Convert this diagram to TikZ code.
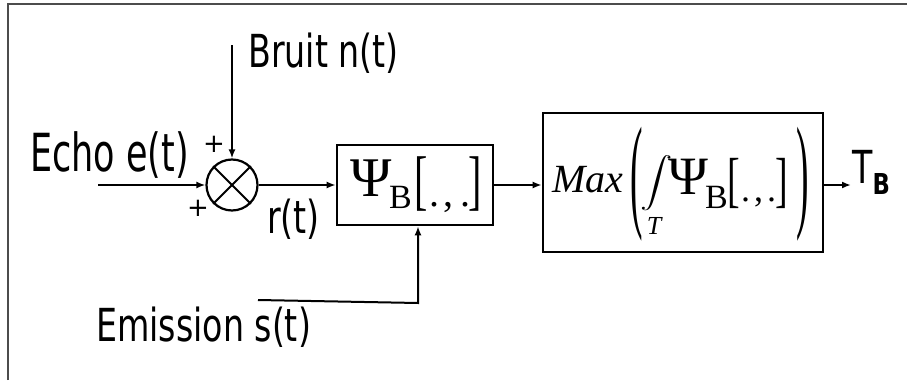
\documentclass[tikz,border=0pt]{standalone}
\usepackage{exscale}
\usepackage{fontspec}
\usepackage{graphicx}
\setmainfont{DejaVu Sans}
\newfontfamily\tms{Liberation Serif}
\newcommand{\tall}[2]{\scalebox{0.95}[#1]{#2}}
\usetikzlibrary{arrows.meta}
\begin{document}
\begin{tikzpicture}[x=1pt,y=-1pt,
  lbl/.style={inner sep=0pt, font=\fontsize{35}{35}\selectfont},
  sym/.style={inner sep=0pt},
  serif/.style={inner sep=0pt, anchor=base west},
  wire/.style={line width=2pt},
  arr/.style={wire,-{Latex[length=9pt,width=7pt]}},
  blk/.style={draw, line width=2.6pt, inner sep=0pt}]
\useasboundingbox (0,0) rectangle (907,380);
\draw[line width=2pt, black!70] (8,380) -- (8,4) -- (907,4);

% blocks
\node[blk, minimum width=156pt, minimum height=80pt] (b1) at (415,185) {};
\node[blk, minimum width=280pt, minimum height=139pt] (b2) at (683,182.5) {};
\node[draw, circle, line width=2.2pt, minimum size=51pt, inner sep=0pt] (sum) at (232,185) {};
\draw[wire] (sum.north west) -- (sum.south east);
\draw[wire] (sum.north east) -- (sum.south west);

% connectors
\coordinate (ein) at (98,185);
\coordinate (nin) at (232,45);
\coordinate (tout) at (851,185);
\coordinate (sin) at (258,300);
\coordinate (scorner) at (418,303);
\draw[arr] (ein) -- (sum.west);
\draw[arr] (nin) -- (sum.north);
\draw[arr] (sum.east) -- (b1.west);
\draw[arr] (b1.east) -- (b1.east -| b2.west);
\draw[arr] (b1.east -| b2.east) -- (tout);
\draw[arr] (sin) -- (scorner) -- (scorner |- b1.south);

% labels
\node[lbl, anchor=base west] (bruit) at (248,67) {\tall{1.3}{Bruit n(t)}};
\node[lbl, anchor=base west] (echo) at (30,171) {\scalebox{1.0}[1.5]{Echo e(t)}};
\node[lbl, anchor=base west] (rt) at (267,233) {\tall{1.3}{r(t)}};
\node[lbl, anchor=base west] (emis) at (96,341) {\tall{1.3}{Emission s(t)}};
\node[lbl, anchor=base west] (tb) at (852,183) {\tall{1.3}{T}\raisebox{-11pt}{\fontsize{24}{24}\selectfont\bfseries\tall{1.2}{B}}};
\node[sym, font=\fontsize{26}{26}\selectfont] (p1) at (214,144) {+};
\node[sym, font=\fontsize{26}{26}\selectfont] (p2) at (198,208) {+};

% block 1 content
\node[serif, font=\tms\fontsize{56}{56}\selectfont] (psi1) at (350,196) {Ψ};
\node[serif, font=\tms\fontsize{34}{34}\selectfont] (bs1) at (389,208) {B};
\node[sym, font=\tms\fontsize{40}{40}\selectfont] (lb1) at (421,184.5) {\scalebox{1}[1.65]{[}};
\node[sym, font=\tms\fontsize{40}{40}\selectfont] (rb1) at (475,184.5) {\scalebox{1}[1.65]{]}};
\node[serif, font=\tms\fontsize{40}{40}\selectfont] (dots1) at (429,206) {.\hspace{4pt},\hspace{7pt}.};

% block 2 content
\node[serif, font=\tms\itshape\fontsize{40}{40}\selectfont] (max) at (552,192) {Max};
\node[sym, font=\tms\fontsize{30}{30}\selectfont] (lp) at (637,184) {\scalebox{1.25}[4.2]{(}};
\node[sym, font=\tms\fontsize{30}{30}\selectfont] (rp) at (803,184) {\scalebox{1.25}[4.2]{)}};
\node[sym] (intg) at (657,183.5) {\scalebox{1.3}[1]{\fontsize{26}{26}\selectfont$\displaystyle\int$}};
\node[inner sep=0pt, anchor=base, font=\tms\itshape\fontsize{26}{26}\selectfont] (tsub) at (654,234) {T};
\node[serif, font=\tms\fontsize{54}{54}\selectfont] (psi2) at (668,194) {Ψ};
\node[serif, font=\tms\fontsize{34}{34}\selectfont] (bs2) at (705,208) {B};
\node[sym, font=\tms\fontsize{38}{38}\selectfont] (lb2) at (734,183) {\scalebox{1}[1.6]{[}};
\node[sym, font=\tms\fontsize{38}{38}\selectfont] (rb2) at (782,183) {\scalebox{1}[1.6]{]}};
\node[serif, font=\tms\fontsize{36}{36}\selectfont] (dots2) at (741,201) {.\hspace{4pt},\hspace{4pt}.};
\end{tikzpicture}
\end{document}
